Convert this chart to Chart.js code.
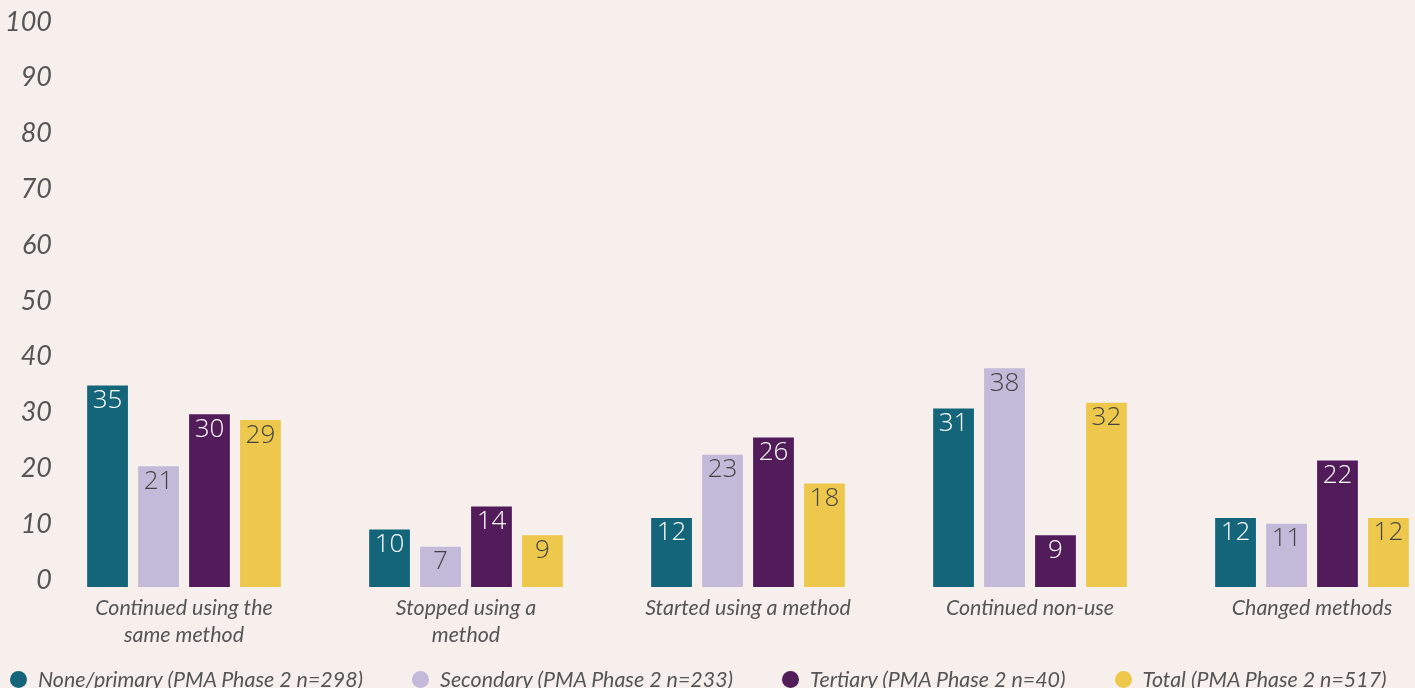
<!DOCTYPE html>
<html>
<head>
<meta charset="utf-8">
<script src="https://cdn.jsdelivr.net/npm/chart.js@4.4.1/dist/chart.umd.min.js"></script>
<style>
  html, body { margin: 0; padding: 0; background: #f6efec; overflow: hidden; }
  #wrap { position: relative; width: 1415px; height: 688px; }
  #legend { position: absolute; left: 10px; top: 665px; display: flex; gap: 49px;
            font-family: Lato, sans-serif; font-style: italic; font-size: 21.4px; color: #555555;
            line-height: 28px; white-space: nowrap; }
  #legend .item { display: flex; align-items: center; }
  #legend .dot { width: 17px; height: 17px; border-radius: 50%; margin-right: 11px; }
</style>
</head>
<body>
<div id="wrap">
  <canvas id="outcomeChart"></canvas>
  <div id="legend"></div>
</div>
<script>
var categories = [["Continued using the", "same method"], ["Stopped using a", "method"], "Started using a method", "Continued non-use", "Changed methods"];
var seriesNames = ["None/primary (PMA Phase 2 n=298)", "Secondary (PMA Phase 2 n=233)", "Tertiary (PMA Phase 2 n=40)", "Total (PMA Phase 2 n=517)"];
var nonePrimary = [35, 10, 12, 31, 12];
var secondary = [21, 7, 23, 38, 11];
var tertiary = [30, 14, 26, 9, 22];
var total = [29, 9, 18, 32, 12];
var yTicks = [0, 10, 20, 30, 40, 50, 60, 70, 80, 90, 100];

var colors = ["#15657a", "#c3b9d8", "#521b59", "#edc84c"];
var labelColors = ["#ffffff", "#444444", "#ffffff", "#444444"];
var values = [nonePrimary, secondary, tertiary, total];

// value labels inside the top of each bar
var barLabels = {
  id: "barLabels",
  afterDatasetsDraw: function(chart) {
    var ctx = chart.ctx;
    ctx.save();
    ctx.font = "300 26px 'Open Sans'";
    ctx.textAlign = "center";
    ctx.textBaseline = "middle";
    chart.data.datasets.forEach(function(ds, i) {
      var meta = chart.getDatasetMeta(i);
      meta.data.forEach(function(bar, j) {
        ctx.fillStyle = labelColors[i];
        ctx.fillText(String(ds.data[j]), bar.x, bar.y + 15);
      });
    });
    ctx.restore();
  }
};

var chart = new Chart("outcomeChart", {
  type: "bar",
  data: {
    labels: categories,
    datasets: values.map(function(v, i) {
      return {
        label: seriesNames[i],
        data: v,
        backgroundColor: colors[i],
        yAxisID: "yv",
        clip: false,
        barPercentage: 0.8,
        categoryPercentage: 0.723
      };
    })
  },
  options: {
    maintainAspectRatio: false,
    animation: false,
    layout: { padding: { top: 29, right: 0, left: 0, bottom: 32 } },
    plugins: {
      tooltip: { enabled: false },
      legend: { display: false }
    },
    scales: {
      x: {
        offset: false,
        grid: { display: false, drawTicks: false },
        border: { display: false },
        ticks: {
          color: "#555555",
          padding: 8,
          font: { family: "Lato", style: "italic", size: 21.4, lineHeight: 1.24 },
          maxRotation: 0
        }
      },
      y: {
        min: 0,
        max: 100,
        afterBuildTicks: function(s) { s.ticks = yTicks.map(function(t) { return { value: t }; }); },
        afterFit: function(s) { s.width = 184; s.paddingTop = 16; s.paddingBottom = 16; },
        grid: { display: false, drawTicks: false },
        border: { display: false },
        ticks: {
          autoSkip: false,
          padding: 132,
          labelOffset: -7,
          color: "#555555",
          font: { family: "Lato", style: "italic", size: 27 }
        }
      },
      yv: {
        position: "right",
        min: 0,
        max: 97,
        afterFit: function(s) { s.width = 103; },
        grid: { display: false, drawTicks: false },
        border: { display: false },
        ticks: { display: false }
      }
    }
  },
  plugins: [barLabels]
});

// legend built from the same series names and colours
var legendEl = document.getElementById("legend");
seriesNames.forEach(function(name, i) {
  var item = document.createElement("div");
  item.className = "item";
  var dot = document.createElement("span");
  dot.className = "dot";
  dot.style.background = colors[i];
  var txt = document.createElement("span");
  txt.textContent = name;
  item.appendChild(dot);
  item.appendChild(txt);
  legendEl.appendChild(item);
});
</script>
</body>
</html>
